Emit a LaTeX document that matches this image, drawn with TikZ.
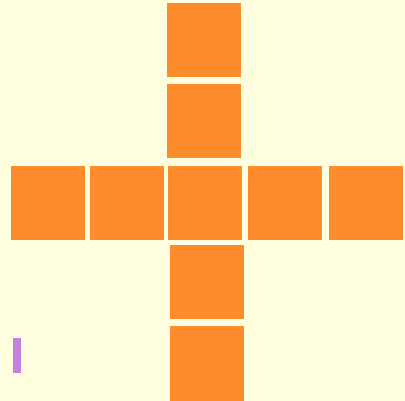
\documentclass[tikz,border=0pt]{standalone}
\usepackage{tikz}
\definecolor{cream}{RGB}{255,255,224}
\definecolor{netorange}{RGB}{255,140,44}
\definecolor{barviolet}{RGB}{196,128,224}

\begin{document}
\begin{tikzpicture}[x=1pt,y=-1pt,
        face/.style={rectangle,fill=netorange,inner sep=0pt,minimum size=74pt},
        bar/.style={rectangle,fill=barviolet,inner sep=0pt,minimum width=8pt,minimum height=35pt}]
        \fill[cream] (0,0) rectangle (405,401);
        \useasboundingbox (0,0) rectangle (405,401);
        \draw (204,40.5) node[face] (T2) {};
        \draw (204,121.5) node[face] (T1) {};
        \draw (47.5,203) node[face] (L2) {};
        \draw (126.5,203) node[face] (L1) {};
        \draw (205,203) node[face] (C) {};
        \draw (285,203) node[face] (R1) {};
        \draw (366,203) node[face] (R2) {};
        \draw (206.5,282.5) node[face] (B1) {};
        \draw (206.5,363.5) node[face] (B2) {};

        \draw (17,355.5) node[bar] (mark) {};
    \end{tikzpicture}
\end{document}
